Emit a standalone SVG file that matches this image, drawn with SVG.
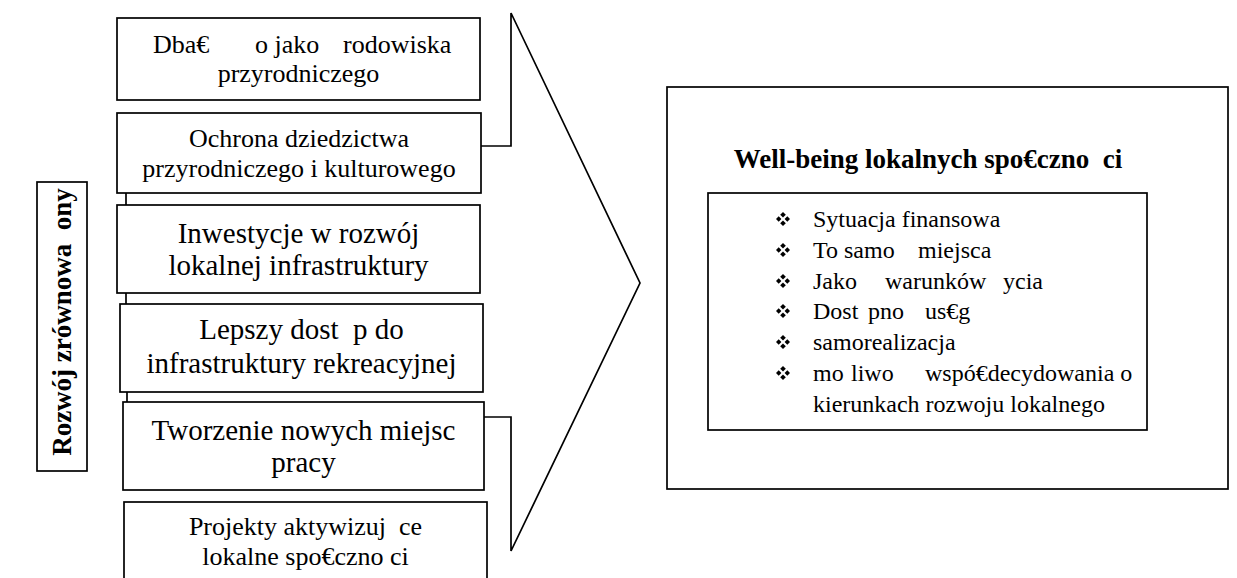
<svg xmlns="http://www.w3.org/2000/svg" width="1237" height="578" viewBox="0 0 1237 578">
<style>
.box{fill:#fff;stroke:#000;stroke-width:1.7}
.ln{fill:none;stroke:#000;stroke-width:1.7}
.t{font-family:"Liberation Serif","Times New Roman",serif;fill:#000}
.c{text-anchor:middle}
.s26{font-size:26px}
.s29{font-size:29px}
.s24{font-size:24px}
.b{font-weight:bold;font-size:27px}
</style>
<defs>
<g id="bullet" fill="#000">
<polygon points="0,-7 2.8,-4.3 0,-1.6 -2.8,-4.3"/>
<polygon points="0,1.6 2.8,4.3 0,7 -2.8,4.3"/>
<polygon points="-7,0 -4.3,-2.8 -1.6,0 -4.3,2.8"/>
<polygon points="1.6,0 4.3,-2.8 7,0 4.3,2.8"/>
</g>
</defs>
<rect width="1237" height="578" fill="#fff"/>
<g id="connectors">
<polyline class="ln" points="481,146 511,146 511,13 640,283 511,551 511,417 484,417"/>
<line class="ln" x1="126" y1="193" x2="126" y2="205"/>
<line class="ln" x1="126" y1="293" x2="126" y2="304"/>
<line class="ln" x1="127" y1="392" x2="127" y2="402"/>
</g>
<g id="n-left">
<rect class="box" x="37" y="182" width="50" height="289"/>
<text class="t b c" xml:space="preserve" transform="translate(71,322) rotate(-90)">Rozwój zrównowa  ony</text>
</g>
<g id="n1">
<rect class="box" x="117" y="18" width="363" height="82"/>
<text class="t s26"><tspan x="153" y="53">Dba€</tspan><tspan x="255">o jako</tspan><tspan x="343">rodowiska</tspan></text>
<text class="t s26 c" x="298.5" y="82">przyrodniczego</text>
</g>
<g id="n2">
<rect class="box" x="117" y="113" width="364" height="80"/>
<text class="t s26 c" x="299" y="147">Ochrona dziedzictwa</text>
<text class="t s26 c" x="299" y="177">przyrodniczego i kulturowego</text>
</g>
<g id="n3">
<rect class="box" x="117" y="205" width="363" height="88"/>
<text class="t s29 c" x="298.5" y="243">Inwestycje w rozwój</text>
<text class="t s29 c" x="298.5" y="275">lokalnej infrastruktury</text>
</g>
<g id="n4">
<rect class="box" x="120" y="304" width="363" height="88"/>
<text class="t s29 c" xml:space="preserve" x="301.5" y="339">Lepszy dost  p do</text>
<text class="t s29 c" x="301.5" y="373">infrastruktury rekreacyjnej</text>
</g>
<g id="n5">
<rect class="box" x="123" y="402" width="361" height="88"/>
<text class="t s29 c" x="303.5" y="440">Tworzenie nowych miejsc</text>
<text class="t s29 c" x="303.5" y="472">pracy</text>
</g>
<g id="n6">
<rect class="box" x="124" y="502" width="363" height="90"/>
<text class="t s26 c" xml:space="preserve" x="305.5" y="535">Projekty aktywizuj  ce</text>
<text class="t s26 c" xml:space="preserve" x="305.5" y="565">lokalne spo€czno ci</text>
</g>
<g id="n-right">
<rect class="box" x="667" y="87" width="561" height="402"/>
<text class="t b c" xml:space="preserve" x="928" y="168">Well-being lokalnych spo€czno  ci</text>
<rect class="box" x="708" y="193" width="439" height="237"/>
<use href="#bullet" x="783" y="219"/>
<use href="#bullet" x="783" y="250"/>
<use href="#bullet" x="783" y="281"/>
<use href="#bullet" x="783" y="311"/>
<use href="#bullet" x="783" y="342"/>
<use href="#bullet" x="783" y="373"/>
<text class="t s24" x="813" y="227">Sytuacja finansowa</text>
<text class="t s24" y="258"><tspan x="813">To samo</tspan><tspan x="918">miejsca</tspan></text>
<text class="t s24" y="289"><tspan x="813">Jako</tspan><tspan x="885">warunków</tspan><tspan x="1003">ycia</tspan></text>
<text class="t s24" y="319"><tspan x="813">Dost</tspan><tspan x="868">pno</tspan><tspan x="925">us€g</tspan></text>
<text class="t s24" x="813" y="350">samorealizacja</text>
<text class="t s24" y="381"><tspan x="813">mo</tspan><tspan x="851">liwo</tspan><tspan x="925">wspó€decydowania o</tspan></text>
<text class="t s24" x="813" y="412">kierunkach rozwoju lokalnego</text>
</g>
</svg>
